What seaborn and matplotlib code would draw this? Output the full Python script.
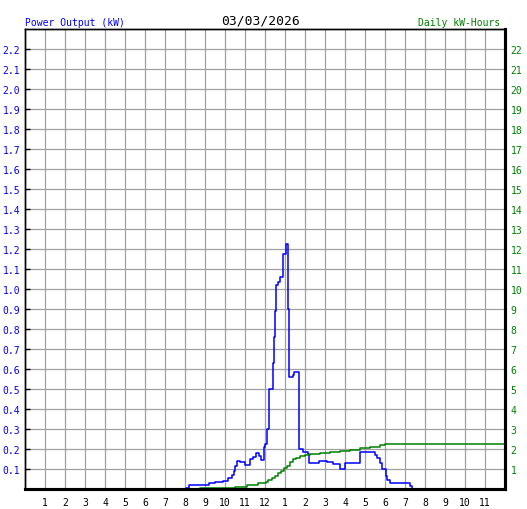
import numpy as np
import pandas as pd
import matplotlib
matplotlib.use("Agg")
import matplotlib.pyplot as plt
import seaborn as sns

# power output (kW), step samples: hour of day -> kW
power_hours = [7.95, 8.03, 8.2, 8.4, 9.2, 9.5, 9.9, 10.15, 10.35, 10.45, 10.52, 10.58,
               10.75, 11.0, 11.25, 11.4, 11.55, 11.72, 11.8, 11.95, 12.0, 12.12, 12.18,
               12.22, 12.38, 12.45, 12.52, 12.53, 12.67, 12.75, 12.92, 13.03, 13.17,
               13.2, 13.22, 13.25, 13.42, 13.45, 13.68, 13.92, 14.17, 14.22, 14.72,
               14.85, 15.1, 15.42, 15.75, 16.0, 16.75, 17.5, 17.62, 17.75, 17.85,
               18.05, 18.12, 18.25, 19.25, 19.33]
power_kw = [0.0, 0.005, 0.022, 0.018, 0.031, 0.037, 0.04, 0.055, 0.07, 0.09, 0.115, 0.14,
            0.133, 0.12, 0.15, 0.158, 0.178, 0.167, 0.147, 0.21, 0.225, 0.30, 0.40,
            0.50, 0.63, 0.76, 0.89, 1.02, 1.033, 1.058, 1.175, 1.225, 0.90,
            0.725, 0.558, 0.558, 0.57, 0.587, 0.20, 0.185, 0.175, 0.128, 0.138,
            0.142, 0.133, 0.125, 0.10, 0.13, 0.185, 0.17, 0.153, 0.13, 0.10,
            0.063, 0.047, 0.03, 0.015, 0.0]

# cumulative energy (kWh)
energy_hours = [7.95, 8.75, 10.0, 10.5, 11.1, 11.65, 12.05, 12.15, 12.35, 12.5, 12.65,
                12.8, 12.95, 13.1, 13.25, 13.4, 13.55, 13.75, 14.0, 14.25, 14.75,
                15.25, 15.75, 16.25, 16.75, 17.25, 17.75, 18.0, 24.0]
energy_kwh = [0.0, 0.03, 0.06, 0.12, 0.2, 0.3, 0.35, 0.45, 0.55, 0.67, 0.8,
              0.92, 1.05, 1.17, 1.35, 1.48, 1.55, 1.63, 1.7, 1.74, 1.78,
              1.83, 1.88, 1.95, 2.03, 2.12, 2.2, 2.25, 2.25]

hour_labels = [str(h) for h in range(1, 12)] + ["12"] + [str(h) for h in range(1, 12)]
date_label = "03/03/2026"

power_df = pd.DataFrame({"hour": power_hours, "kw": power_kw})
energy_df = pd.DataFrame({"hour": energy_hours, "kwh": energy_kwh})

sns.set_style("white")
plt.rcParams["font.family"] = ["DejaVu Sans Mono"]

fig = plt.figure(figsize=(5.27, 5.10), dpi=100)
ax = fig.add_axes([25 / 527, 20 / 510, 480 / 527, 460 / 510])
ax2 = ax.twinx()

sns.lineplot(data=power_df, x="hour", y="kw", ax=ax, color="#0000ff", lw=1.1,
             drawstyle="steps-post", estimator=None, sort=False)
sns.lineplot(data=energy_df, x="hour", y="kwh", ax=ax2, color="#008000", lw=1.1,
             drawstyle="steps-post", estimator=None, sort=False)

ax.set_xlim(0, 24)
ax.set_ylim(0, 2.3)
ax2.set_ylim(0, 23)

ax.set_xticks(range(1, 24))
ax.set_xticklabels(hour_labels)
ax.set_yticks(np.round(np.arange(0.1, 2.25, 0.1), 1))
ax.set_yticklabels([f"{v:.1f}" for v in np.arange(0.1, 2.25, 0.1)])
ax2.set_yticks(range(1, 23))

ax.grid(True, color="#a0a0a0", lw=0.9)
ax.set_axisbelow(True)
ax.set_xlabel("")
ax.set_ylabel("")
ax2.set_ylabel("")

ax.tick_params(axis="y", direction="in", length=3.6, width=1, color="black",
               labelsize=7, labelcolor="#0000ff", pad=3.6)
ax.tick_params(axis="x", direction="out", length=2, width=1, color="black",
               labelsize=7, labelcolor="black", pad=4)
ax2.tick_params(axis="y", direction="in", length=0, labelsize=7,
                labelcolor="#008000", pad=4)

for a in (ax, ax2):
    for s in a.spines.values():
        s.set_color("black")
        s.set_linewidth(1)
    a.spines["bottom"].set_linewidth(2.2)
    a.spines["right"].set_linewidth(2.2)

fig.text(261 / 527, 1 - 25 / 510, date_label, ha="center", va="baseline",
         fontsize=9.4, color="black")
fig.text(25 / 527, 1 - 26.5 / 510, "Power Output (kW)", ha="left", va="baseline",
         fontsize=7, color="#0000ff")
fig.text(500 / 527, 1 - 26.5 / 510, "Daily kW-Hours", ha="right", va="baseline",
         fontsize=7, color="#008000")

fig.savefig("out.png", dpi=100)
